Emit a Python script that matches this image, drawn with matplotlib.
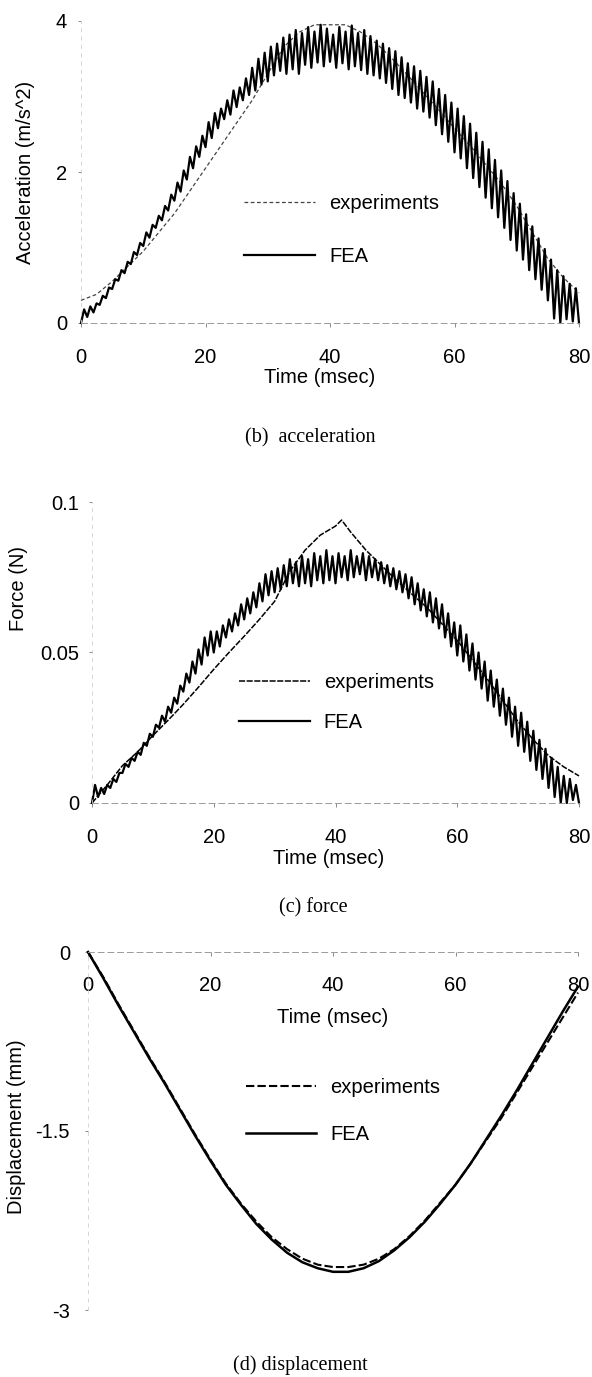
import numpy as np
import matplotlib.pyplot as plt

plt.rcParams['font.family'] = ['Liberation Sans', 'DejaVu Sans']

W, H = 592, 1377

# time bases (msec)
t_fea = np.arange(0, 80.5, 0.5)
t_exp = np.arange(0, 82.5, 2.5)
t_force_exp = [0, 2.5, 5, 7.5, 10, 12.5, 15, 17.5, 20, 22.5, 25, 27.5, 30, 32.5, 35, 37.5,
               40, 41, 42.5, 45, 47.5, 50, 52.5, 55, 57.5, 60, 62.5, 65, 67.5, 70, 72.5, 75, 77.5, 80]

# (b) acceleration, m/s^2
accel_fea = [
    0.00, 0.18, 0.08, 0.22, 0.14, 0.26, 0.24, 0.36, 0.33, 0.47,
    0.45, 0.58, 0.56, 0.70, 0.66, 0.81, 0.78, 0.94, 0.90, 1.06,
    1.02, 1.20, 1.13, 1.30, 1.26, 1.42, 1.36, 1.55, 1.49, 1.70,
    1.62, 1.86, 1.74, 2.02, 1.90, 2.20, 2.05, 2.34, 2.20, 2.48,
    2.33, 2.66, 2.45, 2.78, 2.58, 2.84, 2.70, 2.95, 2.76, 3.08,
    2.86, 3.12, 2.95, 3.24, 3.02, 3.38, 3.08, 3.50, 3.16, 3.58,
    3.20, 3.66, 3.28, 3.70, 3.34, 3.78, 3.30, 3.82, 3.36, 3.88,
    3.30, 3.84, 3.42, 3.92, 3.38, 3.86, 3.45, 3.95, 3.40, 3.90,
    3.46, 3.82, 3.38, 3.92, 3.44, 3.86, 3.36, 3.94, 3.40, 3.84,
    3.35, 3.88, 3.30, 3.80, 3.28, 3.74, 3.24, 3.70, 3.18, 3.64,
    3.10, 3.60, 3.02, 3.52, 2.98, 3.44, 2.92, 3.40, 2.84, 3.34,
    2.80, 3.26, 2.72, 3.20, 2.62, 3.10, 2.50, 3.02, 2.40, 2.92,
    2.26, 2.84, 2.18, 2.74, 2.05, 2.64, 1.92, 2.52, 1.80, 2.40,
    1.66, 2.30, 1.52, 2.16, 1.40, 2.02, 1.26, 1.88, 1.10, 1.72,
    0.96, 1.58, 0.84, 1.44, 0.70, 1.28, 0.58, 1.12, 0.44, 0.98,
    0.30, 0.84, 0.06, 0.70, 0.00, 0.62, 0.05, 0.52, 0.02, 0.46,
    0.00]
accel_exp = [0.30, 0.38, 0.55, 0.75, 0.95, 1.20, 1.45, 1.75, 2.05, 2.35, 2.65, 2.95,
             3.30, 3.65, 3.85, 3.95, 3.95, 3.95, 3.85, 3.70, 3.50, 3.28, 3.05, 2.82,
             2.58, 2.35, 2.10, 1.85, 1.55, 1.20, 0.85, 0.60, 0.40]

# (c) force, N
force_fea = [
    0.000, 0.006, 0.002, 0.005, 0.003, 0.006, 0.005, 0.008, 0.007, 0.010,
    0.010, 0.013, 0.012, 0.015, 0.014, 0.017, 0.016, 0.020, 0.019, 0.023,
    0.022, 0.026, 0.025, 0.029, 0.027, 0.032, 0.030, 0.035, 0.033, 0.039,
    0.037, 0.043, 0.040, 0.047, 0.043, 0.051, 0.046, 0.055, 0.049, 0.057,
    0.050, 0.057, 0.052, 0.059, 0.055, 0.061, 0.057, 0.063, 0.059, 0.066,
    0.061, 0.068, 0.063, 0.070, 0.065, 0.073, 0.067, 0.076, 0.069, 0.077,
    0.070, 0.078, 0.071, 0.079, 0.072, 0.081, 0.073, 0.080, 0.072, 0.082,
    0.073, 0.081, 0.072, 0.083, 0.074, 0.082, 0.073, 0.084, 0.074, 0.082,
    0.073, 0.083, 0.075, 0.082, 0.074, 0.084, 0.075, 0.082, 0.076, 0.083,
    0.074, 0.082, 0.075, 0.081, 0.074, 0.080, 0.073, 0.079, 0.072, 0.078,
    0.071, 0.077, 0.070, 0.076, 0.068, 0.075, 0.066, 0.073, 0.064, 0.071,
    0.062, 0.070, 0.060, 0.068, 0.058, 0.066, 0.055, 0.063, 0.052, 0.060,
    0.049, 0.059, 0.047, 0.056, 0.044, 0.053, 0.041, 0.050, 0.038, 0.047,
    0.034, 0.044, 0.032, 0.041, 0.029, 0.038, 0.026, 0.035, 0.022, 0.032,
    0.019, 0.030, 0.017, 0.027, 0.014, 0.024, 0.011, 0.021, 0.008, 0.018,
    0.005, 0.015, 0.002, 0.012, 0.000, 0.009, 0.000, 0.008, 0.001, 0.006,
    0.000]
force_exp = [0.0, 0.006, 0.0124, 0.017, 0.0224, 0.0275, 0.0328, 0.0385, 0.0444, 0.050,
             0.0554, 0.061, 0.067, 0.077, 0.084, 0.089, 0.092, 0.094, 0.090, 0.084,
             0.079, 0.074, 0.0695, 0.065, 0.0595, 0.054, 0.0475, 0.041, 0.034, 0.027,
             0.021, 0.0157, 0.012, 0.009]

# (d) displacement, mm
disp_fea = [0.0, -0.22, -0.45, -0.67, -0.89, -1.10, -1.32, -1.54, -1.75, -1.95, -2.12,
            -2.28, -2.41, -2.52, -2.60, -2.65, -2.68, -2.68, -2.65, -2.59, -2.50, -2.39,
            -2.26, -2.11, -1.95, -1.77, -1.57, -1.37, -1.16, -0.94, -0.72, -0.50, -0.29]
disp_exp = [0.0, -0.21, -0.44, -0.66, -0.88, -1.09, -1.31, -1.53, -1.74, -1.94, -2.11,
            -2.26, -2.39, -2.49, -2.57, -2.62, -2.64, -2.64, -2.62, -2.57, -2.49, -2.38,
            -2.25, -2.10, -1.95, -1.77, -1.58, -1.39, -1.18, -0.97, -0.76, -0.55, -0.34]

x_ticks = [0, 20, 40, 60, 80]
x_ticklabels = ['0', '20', '40', '60', '80']

FS = 14.5
fig = plt.figure(figsize=(W / 100, H / 100), dpi=100)


def frame(ax, xpad, ypad):
    ax.set_xlim(0, 80)
    ax.set_xticks(x_ticks)
    ax.set_xticklabels(x_ticklabels)
    for side in ['top', 'right']:
        ax.spines[side].set_visible(False)
    ax.spines['bottom'].set_color('#9a9a9a')
    ax.spines['bottom'].set_linewidth(0.7)
    ax.spines['bottom'].set_linestyle((0, (6, 4)))
    ax.spines['left'].set_color('#d0d0d0')
    ax.spines['left'].set_linewidth(0.6)
    ax.spines['left'].set_linestyle((0, (4, 6)))
    ax.tick_params(axis='x', direction='out', length=3, width=0.6, color='#777777',
                   labelsize=FS, pad=xpad)
    ax.tick_params(axis='y', direction='out', length=2, width=0.6, color='#777777',
                   labelsize=FS, pad=ypad)


def legend(ax, handles, x, y, spacing):
    ax.legend(handles=handles, labels=['experiments', 'FEA'], loc='center left',
              bbox_to_anchor=(x, y), frameon=False, fontsize=FS, handlelength=3.5,
              handletextpad=0.7, labelspacing=spacing, borderpad=0, borderaxespad=0)


# ---- (b) acceleration
ax1 = fig.add_axes([81 / W, 1 - 323 / H, 498 / W, 302 / H])
l_exp, = ax1.plot(t_exp, accel_exp, color='#444444', lw=0.9, ls=(0, (3, 2)), clip_on=False)
l_fea, = ax1.plot(t_fea, accel_fea, color='black', lw=1.6, clip_on=False)
ax1.set_ylim(0, 4)
ax1.set_yticks([0, 2, 4])
ax1.set_yticklabels(['0', '2', '4'])
frame(ax1, 15, 8)
ax1.set_xlabel('Time (msec)', fontsize=FS, va='center')
ax1.xaxis.set_label_coords(0.48, -0.179)
ax1.set_ylabel('Acceleration (m/s^2)', fontsize=FS, va='center')
ax1.yaxis.set_label_coords(-0.112, 0.497)
legend(ax1, [l_exp, l_fea], 0.328, 0.308, 1.7)
fig.text(310 / W, 1 - 438 / H, '(b)  acceleration', family='Liberation Serif',
         fontsize=FS, ha='center', va='center')

# ---- (c) force
ax2 = fig.add_axes([92 / W, 1 - 803 / H, 487 / W, 301 / H])
l_exp, = ax2.plot(t_force_exp, force_exp, color='black', lw=1.1, ls=(0, (4, 1)), clip_on=False)
l_fea, = ax2.plot(t_fea, force_fea, color='black', lw=1.6, clip_on=False)
ax2.set_ylim(0, 0.1)
ax2.set_yticks([0, 0.05, 0.1])
ax2.set_yticklabels(['0', '0.05', '0.1'])
frame(ax2, 15, 7)
ax2.set_xlabel('Time (msec)', fontsize=FS, va='center')
ax2.xaxis.set_label_coords(0.485, -0.183)
ax2.set_ylabel('Force (N)', fontsize=FS, va='center')
ax2.yaxis.set_label_coords(-0.15, 0.714)
legend(ax2, [l_exp, l_fea], 0.302, 0.334, 1.05)
fig.text(313 / W, 1 - 908 / H, '(c) force', family='Liberation Serif',
         fontsize=FS, ha='center', va='center')

# ---- (d) displacement
ax3 = fig.add_axes([88 / W, 1 - 1310 / H, 490 / W, 358 / H])
l_exp, = ax3.plot(t_exp, disp_exp, color='black', lw=1.5, ls=(0, (4, 1.5)), clip_on=False)
l_fea, = ax3.plot(t_exp, disp_fea, color='black', lw=1.8, clip_on=False)
ax3.set_ylim(-3, 0)
ax3.set_yticks([-3, -1.5, 0])
ax3.set_yticklabels(['-3', '-1.5', '0'])
frame(ax3, 14, 11)
ax3.spines['bottom'].set_position(('data', 0))
ax3.set_xlabel('Time (msec)', fontsize=FS, va='center')
ax3.xaxis.set_label_coords(0.5, 0.818)
ax3.set_ylabel('Displacement (mm)', fontsize=FS, va='center')
ax3.yaxis.set_label_coords(-0.145, 0.511)
legend(ax3, [l_exp, l_fea], 0.322, 0.556, 1.4)
fig.text(300 / W, 1 - 1365 / H, '(d) displacement', family='Liberation Serif',
         fontsize=FS, ha='center', va='center')

fig.savefig('out.png', dpi=100)
